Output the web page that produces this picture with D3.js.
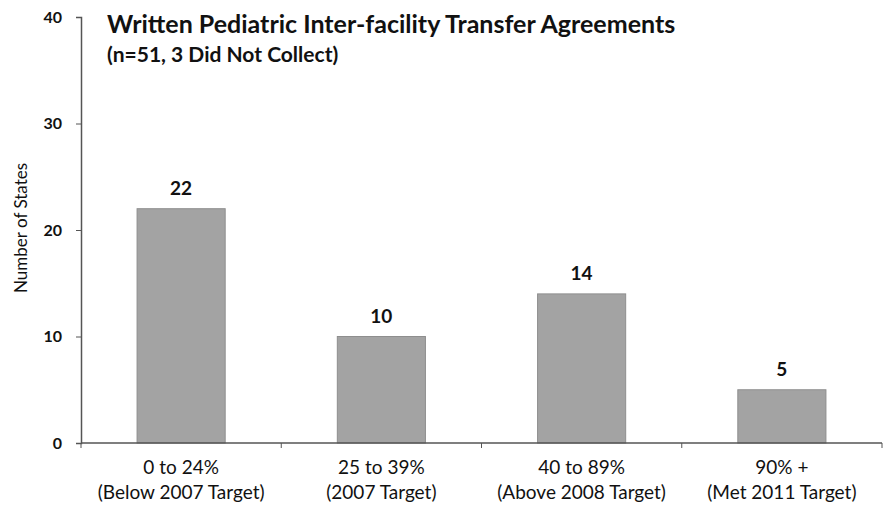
<!DOCTYPE html>
<html>
<head>
<meta charset="utf-8">
<title>Written Pediatric Inter-facility Transfer Agreements</title>
<script src="https://d3js.org/d3.v7.min.js"></script>
<style>
  body { margin: 0; background: #fff; }
  text { font-family: Lato, "Open Sans", sans-serif; fill: #111; }
</style>
</head>
<body>
<svg id="chart" width="886" height="516"></svg>
<script>
// data
var categories = ["0 to 24%", "25 to 39%", "40 to 89%", "90% +"];
var subLabels = ["(Below 2007 Target)", "(2007 Target)", "(Above 2008 Target)", "(Met 2011 Target)"];
var states = [22, 10, 14, 5];
var yTicks = [0, 10, 20, 30, 40];

var svg = d3.select("#chart");
var plotLeft = 81, plotRight = 882, plotTop = 17, plotBottom = 443;

var x = d3.scaleBand().domain(categories).range([plotLeft, plotRight]).paddingInner(0.56).paddingOuter(0.28);
var y = d3.scaleLinear().domain([0, 40]).range([plotBottom, plotTop]);

// bars
svg.selectAll("rect.bar")
  .data(states)
  .enter().append("rect")
  .attr("class", "bar")
  .attr("x", function(d, i) { return x(categories[i]); })
  .attr("y", function(d) { return y(d); })
  .attr("width", x.bandwidth())
  .attr("height", function(d) { return plotBottom - y(d); })
  .attr("fill", "#a3a3a3")
  .attr("stroke", "#8e8e8e")
  .attr("stroke-width", 1);

// value labels
svg.selectAll("text.val")
  .data(states)
  .enter().append("text")
  .attr("class", "val")
  .attr("x", function(d, i) { return x(categories[i]) + x.bandwidth() / 2; })
  .attr("y", function(d) { return y(d) - 14; })
  .attr("text-anchor", "middle")
  .style("font-size", "19px")
  .style("font-weight", "bold")
  .text(function(d) { return d; });

// y axis
var yAxis = svg.append("g")
  .attr("transform", "translate(" + plotLeft + ",0)")
  .call(d3.axisLeft(y).tickValues(yTicks).tickSize(5).tickPadding(14));
yAxis.select(".domain").attr("stroke", "#555").attr("stroke-width", 1.5);
yAxis.selectAll(".tick line").attr("stroke", "#555");
yAxis.selectAll(".tick text")
  .style("font-size", "16px").style("font-weight", "bold")
  .style("font-family", "Lato, sans-serif").attr("fill", "#111");

// x axis: ticks at band boundaries
var step = x.step();
var boundaries = d3.range(categories.length + 1).map(function(i) { return plotLeft + i * step; });
svg.append("line")
  .attr("x1", plotLeft).attr("x2", plotRight)
  .attr("y1", plotBottom).attr("y2", plotBottom)
  .attr("stroke", "#555").attr("stroke-width", 1.5);
svg.selectAll("line.xtick")
  .data(boundaries)
  .enter().append("line")
  .attr("class", "xtick")
  .attr("x1", function(d) { return d; }).attr("x2", function(d) { return d; })
  .attr("y1", plotBottom).attr("y2", plotBottom + 5)
  .attr("stroke", "#555");

var xl = svg.selectAll("text.xlab")
  .data(categories)
  .enter().append("text")
  .attr("class", "xlab")
  .attr("text-anchor", "middle")
  .style("font-size", "19px")
  .attr("x", function(d) { return x(d) + x.bandwidth() / 2; });
xl.append("tspan")
  .attr("x", function(d) { return x(d) + x.bandwidth() / 2; })
  .attr("y", 474)
  .text(function(d) { return d; });
xl.append("tspan")
  .attr("x", function(d) { return x(d) + x.bandwidth() / 2; })
  .attr("y", 499)
  .text(function(d, i) { return subLabels[i]; });

// y axis title
svg.append("text")
  .attr("transform", "translate(27,228) rotate(-90)")
  .attr("text-anchor", "middle")
  .style("font-size", "17px")
  .text("Number of States");

// titles
svg.append("text")
  .attr("x", 107).attr("y", 33)
  .style("font-size", "25px").style("font-weight", "bold")
  .text("Written Pediatric Inter-facility Transfer Agreements");
svg.append("text")
  .attr("x", 107).attr("y", 62)
  .style("font-size", "21px").style("font-weight", "bold")
  .text("(n=51, 3 Did Not Collect)");
</script>
</body>
</html>
